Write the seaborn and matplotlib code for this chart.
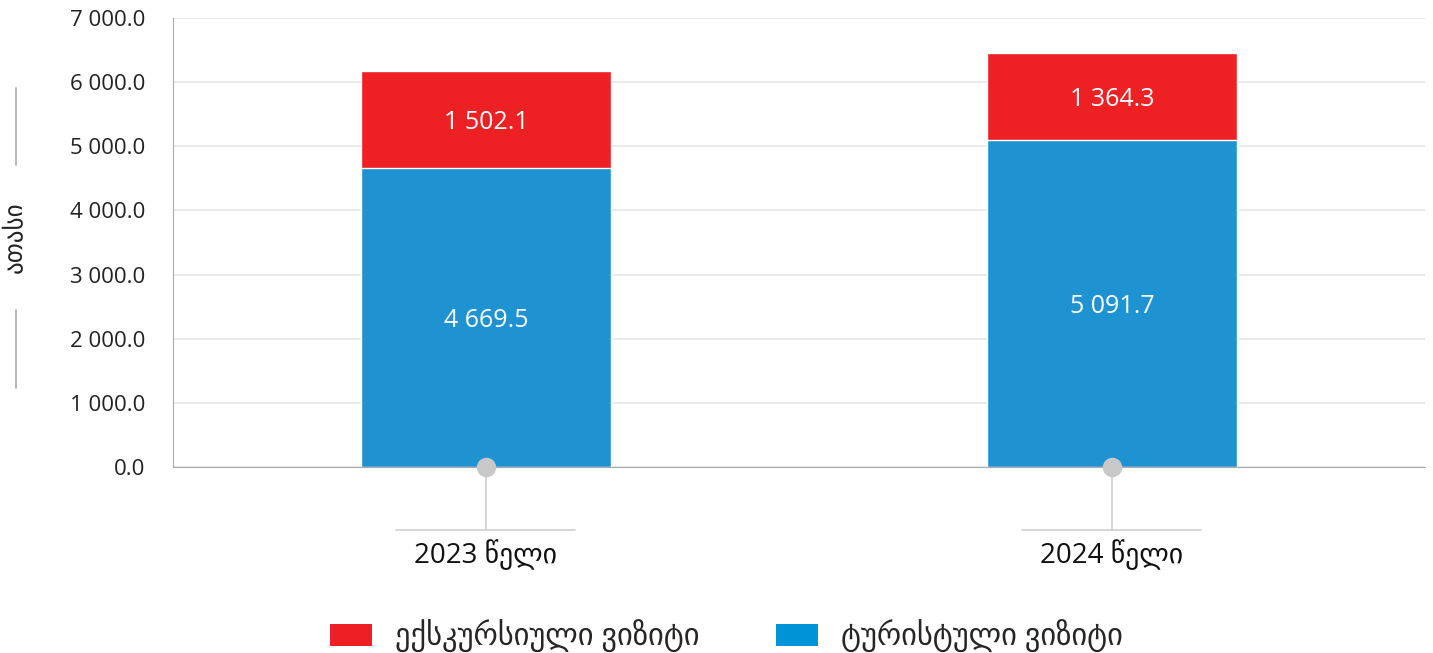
import matplotlib
matplotlib.use("Agg")
import matplotlib.pyplot as plt
import matplotlib.transforms as mtransforms
from matplotlib.lines import Line2D
from matplotlib.patches import Patch
import seaborn as sns
import pandas as pd

# Dados (georgiano em mkhedruli: nenhuma fonte instalada tem mtavruli)
YEARS = ["2023 წელი", "2024 წელი"]
TOURIST = [4669.5, 5091.7]
EXCURSION = [1502.1, 1364.3]
SERIES_NAMES = ["ექსკურსიული ვიზიტი", "ტურისტული ვიზიტი"]
Y_TICKS = [0, 1000, 2000, 3000, 4000, 5000, 6000, 7000]
Y_LABEL = "ათასი"

RED = "#ED2024"
BLUE = "#1F93D1"
BLUE_LEGEND = "#0093D6"
DOT = "#C8C8C8"

sns.set_style("white")
plt.rcParams["font.family"] = ["Open Sans", "DejaVu Sans"]


def fmt(v):
    return f"{v:,.1f}".replace(",", " ")


df = pd.DataFrame({
    "year": YEARS,
    "tourist": TOURIST,
    "excursion": EXCURSION,
})
df["total"] = df["tourist"] + df["excursion"]

fig = plt.figure(figsize=(14.33, 6.53), dpi=100)
ax = fig.add_axes([0.1207, 0.2848, 0.8737, 0.6876])

# barras empilhadas: total em vermelho, turistas em azul por cima
sns.barplot(data=df, x="year", y="total", color=RED, width=0.4,
            saturation=1, ax=ax, zorder=2)
sns.barplot(data=df, x="year", y="tourist", color=BLUE, width=0.4,
            saturation=1, ax=ax, zorder=3)

ax.set_xlim(-0.5, 1.5)
ax.set_ylim(0, 7000)
ax.set_yticks(Y_TICKS)
ax.set_yticklabels([fmt(v) for v in Y_TICKS])
ax.grid(axis="y", color="#E6E6E6", linewidth=1.2, zorder=0)
ax.set_axisbelow(True)

for s in ["top", "right"]:
    ax.spines[s].set_visible(False)
ax.spines["left"].set_color("#AAAAAA")
ax.spines["bottom"].set_color("#AAAAAA")
ax.spines["left"].set_zorder(4)
ax.spines["bottom"].set_zorder(4)

ax.tick_params(axis="y", length=8, width=1, color="#AAAAAA", labelsize=16,
               labelcolor="#222222", pad=12)
ax.tick_params(axis="x", length=0, labelsize=20, labelcolor="#111111", pad=52)
ax.set_xlabel("")
ax.set_ylabel("")

# rótulos dentro das barras
for i, row in df.iterrows():
    ax.text(i, row["tourist"] / 2, fmt(row["tourist"]), ha="center",
            va="center_baseline", color="white", fontsize=18, zorder=5)
    ax.text(i, row["tourist"] + row["excursion"] / 2, fmt(row["excursion"]),
            ha="center", va="center_baseline", color="white", fontsize=18,
            zorder=5)

# marcadores e linhas abaixo do eixo
trans = mtransforms.blended_transform_factory(ax.transData, ax.transAxes)
for i in range(len(df)):
    ax.plot([i], [0], marker="o", markersize=14, color=DOT, clip_on=False,
            zorder=6, markeredgewidth=0)
    ax.add_line(Line2D([i, i], [0, -0.14], transform=trans, color="#D0D0D0",
                       linewidth=1.2, clip_on=False, zorder=1))
    ax.add_line(Line2D([i - 0.143, i + 0.143], [-0.14, -0.14], transform=trans,
                       color="#D0D0D0", linewidth=1.2, clip_on=False, zorder=1))

# rótulo do eixo y com linhas decorativas
fig.text(15 / 1433, 1 - 237 / 653, Y_LABEL, rotation=90, ha="center",
         va="center", fontsize=18, color="#222222")
for y0, y1 in [(88, 165), (310, 388)]:
    fig.add_artist(Line2D([16 / 1433, 16 / 1433], [1 - y0 / 653, 1 - y1 / 653],
                          color="#AAAAAA", linewidth=1.2))

# legenda
handles = [Patch(facecolor=RED, edgecolor="none"),
           Patch(facecolor=BLUE_LEGEND, edgecolor="none")]
fig.legend(handles, SERIES_NAMES, loc="center", bbox_to_anchor=(0.507, 0.026),
           ncol=2, frameon=False, fontsize=22, handlelength=1.37,
           handleheight=0.72, handletextpad=0.75, columnspacing=2.5)

plt.savefig("out.png", dpi=100)
